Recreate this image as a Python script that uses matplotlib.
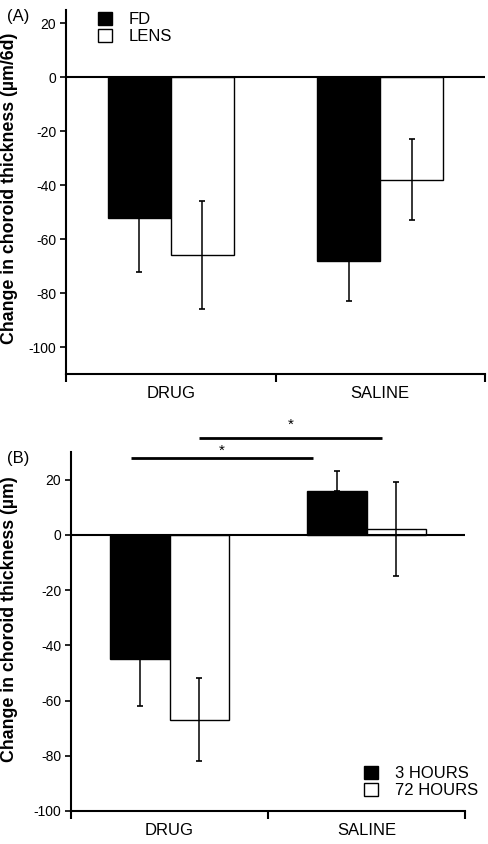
import numpy as np
from matplotlib import pyplot as plt

plt.rcParams['font.family'] = ['Liberation Sans', 'DejaVu Sans']

groups = ["DRUG", "SALINE"]

# panel A
a_series = ["FD", "LENS"]
a_values = [[-52, -68], [-66, -38]]
a_err_low = [[20, 15], [20, 15]]
a_err_high = [[0, 0], [20, 15]]

# panel B
b_series = ["3 HOURS", "72 HOURS"]
b_values = [[-45, 16], [-67, 2]]
b_err_low = [[17, 0], [15, 17]]
b_err_high = [[0, 7], [15, 17]]

# significance bars: x start, x end, y of line, y of star
b_sig_lines = [(0.305, 1.23, 27.9, 30.5), (0.65, 1.58, 35.1, 39.7)]

colors = ["black", "white"]
width = 0.3

fig = plt.figure(figsize=(4.88, 8.44), dpi=100)
ax_a = fig.add_axes([0.1352, 0.5569, 0.8587, 0.4313])
ax_b = fig.add_axes([0.1455, 0.0391, 0.8074, 0.4254])


def draw_panel(ax, series, values, err_low, err_high, ylim, yticks, ylabel, label_x, label_y):
	x = np.arange(len(groups)) + 0.5
	handles = []
	for i, name in enumerate(series):
		pos = x - width / 2 + i * width
		h = ax.bar(pos, values[i], width, color=colors[i], edgecolor="black",
			linewidth=1.0, label=name, zorder=2)
		handles.append(h)
		ax.errorbar(pos, values[i], yerr=[err_low[i], err_high[i]], fmt="none",
			ecolor="black", elinewidth=1.1, capsize=2.2, capthick=1.2, zorder=3)
	ax.axhline(0, color="black", linewidth=1.5, zorder=4)
	ax.set_xlim(0, 2)
	ax.set_ylim(*ylim)
	ax.set_yticks(yticks)
	ax.set_yticklabels([str(t) for t in yticks], fontsize=10)
	ax.set_xticks([0, 1, 2])
	ax.set_xticklabels([])
	ax.set_xticks(x, minor=True)
	ax.set_xticklabels(groups, minor=True, fontsize=12)
	ax.tick_params(axis="x", which="major", length=6, width=1.5, direction="out")
	ax.tick_params(axis="x", which="minor", length=0, pad=9)
	ax.tick_params(axis="y", length=4, width=1.2, pad=3)
	for s in ["top", "right"]:
		ax.spines[s].set_visible(False)
	for s in ["left", "bottom"]:
		ax.spines[s].set_linewidth(1.5)
	ax.set_ylabel(ylabel, fontsize=12.8, fontweight="bold")
	ax.yaxis.set_label_coords(label_x, label_y)
	return handles


h_a = draw_panel(ax_a, a_series, a_values, a_err_low, a_err_high, (-110, 25),
	[-100, -80, -60, -40, -20, 0, 20], "Change in choroid thickness (µm/6d)", -0.115, 0.51)
h_b = draw_panel(ax_b, b_series, b_values, b_err_low, b_err_high, (-100, 30),
	[-100, -80, -60, -40, -20, 0, 20], "Change in choroid thickness (µm)", -0.135, 0.535)

leg_kw = dict(frameon=False, fontsize=12, handlelength=0.85, handleheight=0.85,
	handletextpad=1.0, labelspacing=0.1, borderaxespad=0, borderpad=0)
ax_a.legend(h_a, a_series, loc="upper left", bbox_to_anchor=(0.076, 0.995), **leg_kw)
ax_b.legend(h_b, b_series, loc="lower right", bbox_to_anchor=(1.033, 0.036), **leg_kw)

for x0, x1, y, ys in b_sig_lines:
	ax_b.plot([x0, x1], [y, y], color="black", linewidth=2, clip_on=False,
		solid_capstyle="butt")
	ax_b.text((x0 + x1) / 2, ys, "*", ha="center", va="center",
		fontsize=11, clip_on=False)

fig.text(0.014, 0.981, "(A)", fontsize=12, va="center", ha="left")
fig.text(0.014, 0.457, "(B)", fontsize=12, va="center", ha="left")

fig.savefig("out.png", dpi=100)
